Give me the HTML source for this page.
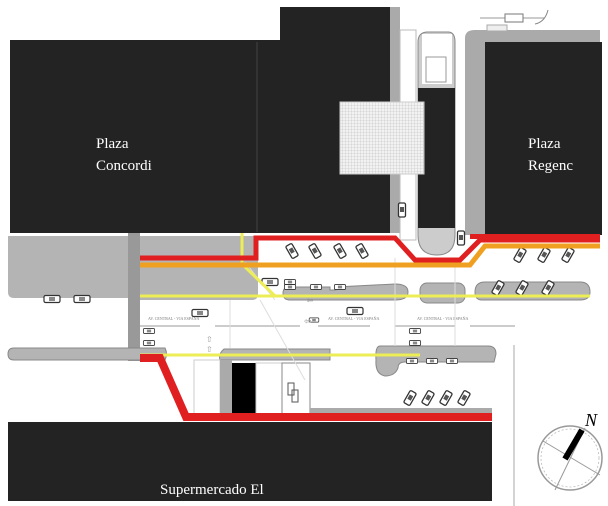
<!DOCTYPE html>
<html><head><style>
html,body{margin:0;padding:0;background:#fff;width:608px;height:506px;overflow:hidden}
svg{display:block}
text{font-family:"Liberation Serif",serif}
</style></head><body>
<svg width="608" height="506" viewBox="0 0 608 506" xmlns="http://www.w3.org/2000/svg">
<defs>
<pattern id="grid" width="3" height="3" patternUnits="userSpaceOnUse">
<rect width="3" height="3" fill="#f2f2f2"/><path d="M0 0H3M0 0V3" stroke="#bbb" stroke-width="0.6"/>
</pattern>
<g id="car"><rect x="-3.5" y="-7" width="7" height="14" rx="1.5" fill="#fff" stroke="#333" stroke-width="1.3"/><rect x="-2" y="-3" width="4" height="5" fill="#555"/></g>
<g id="hcar"><rect x="-8" y="-3.5" width="16" height="7" rx="1.5" fill="#fff" stroke="#333" stroke-width="1.2"/><rect x="-3" y="-2" width="6" height="4" fill="#888"/></g>
</defs>

<rect x="10" y="40" width="272" height="193" fill="#232323"/>
<rect x="280" y="7" width="110" height="226" fill="#232323"/>
<rect x="256" y="42" width="2" height="190" fill="#333"/>
<rect x="390" y="7" width="10" height="226" fill="#aaa"/>
<rect x="400" y="30" width="16" height="210" fill="#fff" stroke="#bbb" stroke-width="1"/>
<path d="M418 42 Q418 32 428 32 L448 32 Q455 32 455 42 L455 235 Q455 255 437 255 Q418 255 418 235 Z" fill="#ccc" stroke="#888"/>
<rect x="422" y="34" width="30" height="50" fill="#fff"/>
<rect x="426" y="57" width="20" height="25" fill="#fff" stroke="#999"/>
<rect x="418" y="88" width="37" height="140" fill="#232323"/>
<rect x="340" y="102" width="84" height="72" fill="url(#grid)" stroke="#ccc"/>
<path d="M465 38 Q465 30 475 30 L600 30 L600 235 L465 235 Z" fill="#aaa"/>
<rect x="485" y="42" width="117" height="193" fill="#232323"/>
<rect x="487" y="25" width="20" height="6" fill="#eee" stroke="#aaa"/>
<path d="M480 18 L545 18" stroke="#999"/><rect x="505" y="14" width="18" height="8" fill="#fff" stroke="#777"/>
<path d="M548 10 Q545 22 535 24" stroke="#888" fill="none"/>

<text x="96" y="148" fill="#fff" font-size="15">Plaza</text>
<text x="96" y="170" fill="#fff" font-size="15">Concordi</text>
<text x="528" y="148" fill="#fff" font-size="15">Plaza</text>
<text x="528" y="170" fill="#fff" font-size="15">Regenc</text>

<path d="M8 236 L128 236 L128 298 L14 298 Q8 298 8 292 Z" fill="#b4b4b4"/>
<rect x="128" y="233" width="12" height="128" fill="#999"/>
<path d="M140 236 L258 236 L258 294 Q258 300 252 300 L140 300 Z" fill="#b4b4b4"/>
<g transform="translate(52,299)"><use href="#hcar"/></g>
<g transform="translate(82,299)"><use href="#hcar"/></g>
<g transform="translate(200,313)"><use href="#hcar"/></g>
<g transform="translate(355,311)"><use href="#hcar"/></g>

<path d="M290 287 L330 287 L330 290 L336 290 L336 287 L395 284 Q408 284 408 292 Q408 300 395 300 L290 300 Q283 300 283 293 Q283 287 290 287 Z" fill="#b4b4b4" stroke="#888"/>
<rect x="420" y="283" width="45" height="20" rx="7" fill="#b4b4b4" stroke="#888"/>
<path d="M485 282 L580 282 Q590 282 590 292 Q590 300 580 300 L482 300 Q475 300 475 292 Q475 282 485 282 Z" fill="#b4b4b4" stroke="#888"/>
<path d="M14 348 L165 348 Q168 354 165 360 L14 360 Q8 360 8 354 Q8 348 14 348 Z" fill="#b4b4b4" stroke="#888"/>
<path d="M224 349 L330 349 L330 360 L220 360 Q218 354 224 349 Z" fill="#b4b4b4" stroke="#888"/>
<path d="M380 346 L488 346 Q496 346 496 354 L494 362 L405 362 Q398 362 398 368 Q395 376 385 376 Q375 374 376 360 Q375 346 380 346 Z" fill="#b4b4b4" stroke="#888"/>

<g fill="none">
<g transform="translate(292,251) rotate(-30)"><use href="#car"/></g>
<g transform="translate(315,251) rotate(-30)"><use href="#car"/></g>
<g transform="translate(340,251) rotate(-30)"><use href="#car"/></g>
<g transform="translate(362,251) rotate(-30)"><use href="#car"/></g>
<g transform="translate(520,255) rotate(30)"><use href="#car"/></g>
<g transform="translate(544,255) rotate(30)"><use href="#car"/></g>
<g transform="translate(568,255) rotate(30)"><use href="#car"/></g>
<g transform="translate(498,288) rotate(30)"><use href="#car"/></g>
<g transform="translate(522,288) rotate(30)"><use href="#car"/></g>
<g transform="translate(548,288) rotate(30)"><use href="#car"/></g>
<g transform="translate(410,398) rotate(30)"><use href="#car"/></g>
<g transform="translate(428,398) rotate(30)"><use href="#car"/></g>
<g transform="translate(446,398) rotate(30)"><use href="#car"/></g>
<g transform="translate(464,398) rotate(30)"><use href="#car"/></g>
<g transform="translate(402,210)"><use href="#car"/></g>
<g transform="translate(461,238)"><use href="#car"/></g>
</g>
<g transform="translate(270,282)"><use href="#hcar"/></g>
<g transform="translate(290,282) scale(0.7)"><use href="#hcar"/></g>
<g transform="translate(290,287) scale(0.7)"><use href="#hcar"/></g>
<g transform="translate(316,287) scale(0.7)"><use href="#hcar"/></g>
<g transform="translate(340,287) scale(0.7)"><use href="#hcar"/></g>
<g transform="translate(149,331) scale(0.7)"><use href="#hcar"/></g>
<g transform="translate(149,343) scale(0.7)"><use href="#hcar"/></g>
<g transform="translate(314,320) scale(0.6)"><use href="#hcar"/></g>
<g transform="translate(415,331) scale(0.7)"><use href="#hcar"/></g>
<g transform="translate(415,343) scale(0.7)"><use href="#hcar"/></g>
<g transform="translate(412,361) scale(0.7)"><use href="#hcar"/></g>
<g transform="translate(432,361) scale(0.7)"><use href="#hcar"/></g>
<g transform="translate(452,361) scale(0.7)"><use href="#hcar"/></g>

<g font-family="Liberation Sans" font-size="4" fill="#777">
<text x="148" y="320">AV. CENTRAL - VIA ESPAÑA</text>
<text x="328" y="320">AV. CENTRAL - VIA ESPAÑA</text>
<text x="417" y="320">AV. CENTRAL - VIA ESPAÑA</text>
</g>
<path d="M140 326 H200 M215 326 H300 M318 326 H370 M395 326 H455 M470 326 H515" stroke="#999" stroke-width="1"/>
<text x="306" y="303" font-size="9" fill="#999">⇦</text>
<text x="304" y="324" font-size="9" fill="#999">⇦</text>
<text x="206" y="342" font-size="8" fill="#999">⇧</text>
<text x="206" y="352" font-size="8" fill="#999">⇧</text>
<text x="200" y="370" font-size="8" fill="#999">⇩</text>
<text x="200" y="402" font-size="8" fill="#999">⇩</text>

<rect x="194" y="360" width="26" height="54" fill="#fff" stroke="#ccc"/>
<rect x="220" y="360" width="12" height="54" fill="#aaa"/>
<rect x="232" y="363" width="24" height="51" fill="#000"/>
<rect x="256" y="363" width="26" height="51" fill="#fff" stroke="#ccc"/>
<rect x="282" y="363" width="28" height="52" fill="#fff" stroke="#888"/>
<rect x="288" y="383" width="6" height="12" fill="none" stroke="#555"/><rect x="292" y="390" width="6" height="12" fill="none" stroke="#555"/>
<rect x="310" y="408" width="182" height="5" fill="#aaa"/>

<path d="M245 262 L275 300 M260 300 L305 380 M395 258 L395 346 M455 258 L455 346 M230 300 L230 348" stroke="#ddd" stroke-width="1" fill="none"/>

<path d="M242 233 L242 264 L275 296 L590 296" stroke="#eded55" stroke-width="3" fill="none"/>
<path d="M140 296 L275 296" stroke="#eded55" stroke-width="3" fill="none"/>
<path d="M140 355 L420 355" stroke="#eded55" stroke-width="3" fill="none"/>
<path d="M140 265 L470 265 L485 246 L600 246" stroke="#f0a020" stroke-width="5" fill="none"/>
<path d="M140 258 L256 258 L256 238 L395 238 L415 260 L460 260 L480 240 L600 240" stroke="#e02020" stroke-width="5" fill="none"/>
<path d="M140 358 L160 358 L186 417 L492 417" stroke="#e02020" stroke-width="8" fill="none"/>
<rect x="470" y="234" width="130" height="5" fill="#e02020"/>

<rect x="8" y="422" width="484" height="79" fill="#232323"/>
<text x="160" y="494" fill="#fff" font-size="15">Supermercado El</text>

<line x1="514" y1="345" x2="514" y2="506" stroke="#aaa"/>
<circle cx="570" cy="458" r="32" fill="none" stroke="#999" stroke-width="1.5"/>
<circle cx="570" cy="458" r="29" fill="none" stroke="#bbb" stroke-width="0.8" stroke-dasharray="2 2"/>
<path d="M543 441 L600 475 M555 490 L585 428" stroke="#999" fill="none"/>
<path d="M565 459 L582 430" stroke="#000" stroke-width="6"/>
<text x="585" y="426" font-family="Liberation Sans" font-style="italic" font-size="18" fill="#000">N</text>
</svg>
</body></html>
